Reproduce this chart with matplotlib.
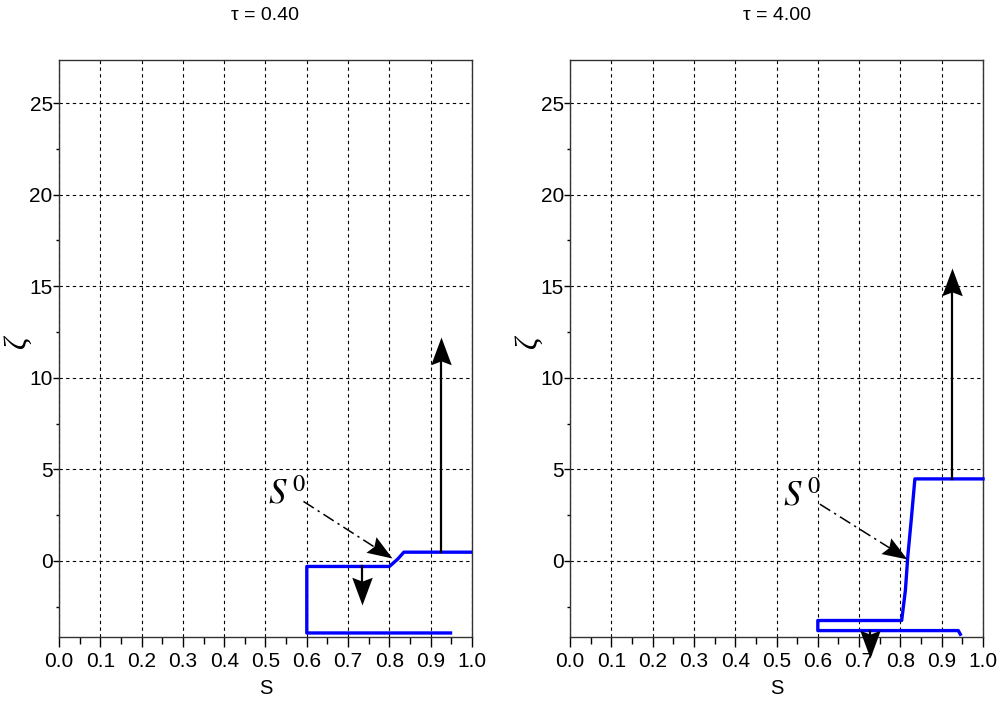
import numpy as np
import matplotlib.pyplot as plt
from matplotlib.ticker import MultipleLocator
from matplotlib.markers import MarkerStyle
from matplotlib.path import Path
from matplotlib.transforms import Affine2D

plt.rcParams['font.family'] = ['Liberation Sans', 'DejaVu Sans']

titles = ['τ = 0.40', 'τ = 4.00']

# blue curves (S, zeta)
s_left = [1.0, 0.835, 0.82, 0.80, 0.60, 0.60, 0.948]
z_left = [0.48, 0.48, 0.1, -0.3, -0.3, -3.93, -3.93]

s_right = [1.0, 0.835, 0.826, 0.818, 0.812, 0.803, 0.60, 0.60, 0.94, 0.945]
z_right = [4.48, 4.48, 2.2, 0.3, -1.6, -3.25, -3.25, -3.8, -3.8, -4.0]

# vertical arrows: (x, z_start, z_end)
up_left = (0.925, 0.5, 12.2)
down_left = (0.734, -0.3, -2.4)
up_right = (0.925, 4.5, 16.0)
down_right = (0.726, -3.8, -5.3)

# S^0 labels and pointers
s0_text = [(0.553, 3.65), (0.562, 3.55)]
s0_from = [(0.592, 3.25), (0.605, 3.1)]
s0_to = [(0.806, 0.15), (0.817, 0.1)]

# notched arrow head, tip at origin pointing up
head_path = Path([(0, 0), (-0.37, -1.0), (0, -0.86), (0.37, -1.0), (0, 0)],
                 [Path.MOVETO, Path.LINETO, Path.LINETO, Path.LINETO, Path.CLOSEPOLY])


def arrow(ax, x0, y0, x1, y1, lw, ls, size, clip=True):
    p0 = ax.transData.transform((x0, y0))
    p1 = ax.transData.transform((x1, y1))
    ang = np.degrees(np.arctan2(p1[1] - p0[1], p1[0] - p0[0])) - 90
    # stop the shaft inside the head
    frac = 1 - (size * 0.5 * 0.8 * 100 / 72) / np.hypot(*(p1 - p0))
    xe, ye = x0 + (x1 - x0) * frac, y0 + (y1 - y0) * frac
    ax.plot([x0, xe], [y0, ye], color='black', lw=lw, linestyle=ls,
            clip_on=clip, zorder=4)
    m = MarkerStyle(head_path, transform=Affine2D().rotate_deg(ang))
    ax.plot([x1], [y1], marker=m, markersize=size, color='black',
            markeredgewidth=0, linestyle='none', clip_on=clip, zorder=5)


fig = plt.figure(figsize=(10.03, 7.02), dpi=100)
ax1 = fig.add_axes([0.0588, 0.0926, 0.4118, 0.822])
ax2 = fig.add_axes([0.5683, 0.0926, 0.4118, 0.822])

data = [(s_left, z_left, up_left, down_left), (s_right, z_right, up_right, down_right)]

for i, ax in enumerate([ax1, ax2]):
    s, z, up, down = data[i]
    ax.set_xlim(0, 1)
    ax.set_ylim(-4.15, 27.35)
    ax.xaxis.set_minor_locator(MultipleLocator(0.05))
    ax.yaxis.set_minor_locator(MultipleLocator(2.5))
    xt = np.arange(0, 1.01, 0.1)
    ax.set_xticks(xt)
    ax.set_xticklabels([f'{v:.1f}' for v in xt])
    ax.set_yticks([0, 5, 10, 15, 20, 25])
    ax.tick_params(which='major', direction='out', width=1, labelsize=15)
    ax.tick_params(axis='x', which='major', length=7, pad=3.5)
    ax.tick_params(axis='x', which='minor', direction='out', length=5, width=1)
    ax.tick_params(axis='y', which='major', length=4.5, pad=0)
    ax.tick_params(axis='y', which='minor', direction='out', length=2.5, width=1)
    ax.grid(True, which='major', color='black', linestyle=(0, (3, 3)), linewidth=0.8)
    for sp in ax.spines.values():
        sp.set_linewidth(1)
        sp.set_color('#333333')

    ax.plot(s, z, color='#0000ff', lw=2.4, zorder=3, clip_on=(i == 0))

    arrow(ax, up[0], up[1], up[0], up[2], 1.6, '-', 40)
    arrow(ax, down[0], down[1], down[0], down[2], 1.6, '-', 40, clip=False)

    tx, tz = s0_text[i]
    ax.text(tx, tz, '$S^{\\,\\mathit{0}}$', fontsize=25,
            ha='center', va='center', math_fontfamily='stix')
    fx, fz = s0_from[i]
    ex, ez = s0_to[i]
    arrow(ax, fx, fz, ex, ez, 1.1, (0, (8, 3, 1.5, 3)), 36)

    ax.set_title(titles[i], fontsize=14, pad=29)
    ax.set_xlabel('S', fontsize=14.5, labelpad=6)
    ax.set_ylabel('ζ', fontsize=22, family='Liberation Serif', style='italic', labelpad=0)
    ax.yaxis.set_label_coords(-0.064, 0.51)

fig.savefig('out.png', dpi=100)
